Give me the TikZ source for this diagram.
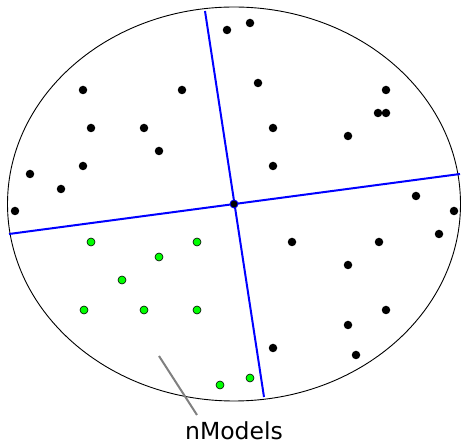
\documentclass[tikz,border=0pt]{standalone}
\usepackage{fontspec}
\newfontfamily\lblfont{DejaVu Sans}
\begin{document}
\begin{tikzpicture}[x=1pt,y=-1pt,
  bdot/.style={circle,fill=black,inner sep=0pt,minimum size=8.5pt},
  gdot/.style={circle,fill=green,draw=black,line width=0.6pt,inner sep=0pt,minimum size=8pt},
  split/.style={blue,line width=2pt},
  lbl/.style={font=\lblfont\fontsize{23.5}{26}\selectfont,inner sep=0pt}]
\useasboundingbox (0,0) rectangle (461,443);
\draw[line width=0.9pt] (234,204) ellipse [x radius=226.5, y radius=197];
\coordinate (t1) at (205,11);
\coordinate (t2) at (264,397);
\coordinate (h1) at (9,234);
\coordinate (h2) at (460,174);
\draw[split] (t1) -- (t2);
\draw[split] (h1) -- (h2);
\node[circle,fill=black,draw=blue,line width=0.8pt,inner sep=0pt,minimum size=8pt] (c) at (234,204) {};
% black dots
\foreach \n/\x/\y in {a1/227/30,a2/250/23,a3/83/90,a4/182/90,a5/91/128,a6/144/128,a7/159/151,a8/83/166,a9/30/174,a10/61/189,a11/15/211,
  b1/258/83,b2/386/90,b3/378/113,b4/386/113,b5/273/128,b6/348/136,b7/273/166,b8/416/196,b9/454/211,
  d1/292/242,d2/379/242,d3/348/265,d4/439/234,d5/386/310,d6/348/325,d7/273/348,d8/356/355}
  \node[bdot] (\n) at (\x,\y) {};
% green dots
\foreach \n/\x/\y in {g1/91/242,g2/197/242,g3/159/257,g4/122/280,g5/84/310,g6/144/310,g7/197/310,g8/220/385,g9/250/378}
  \node[gdot] (\n) at (\x,\y) {};
\node[lbl,anchor=base] (label) at (234,440) {nModels};
\coordinate (p1) at (159,356);
\coordinate (p2) at (197,415);
\draw[gray,line width=2pt] (p1) -- (p2);
\end{tikzpicture}
\end{document}
